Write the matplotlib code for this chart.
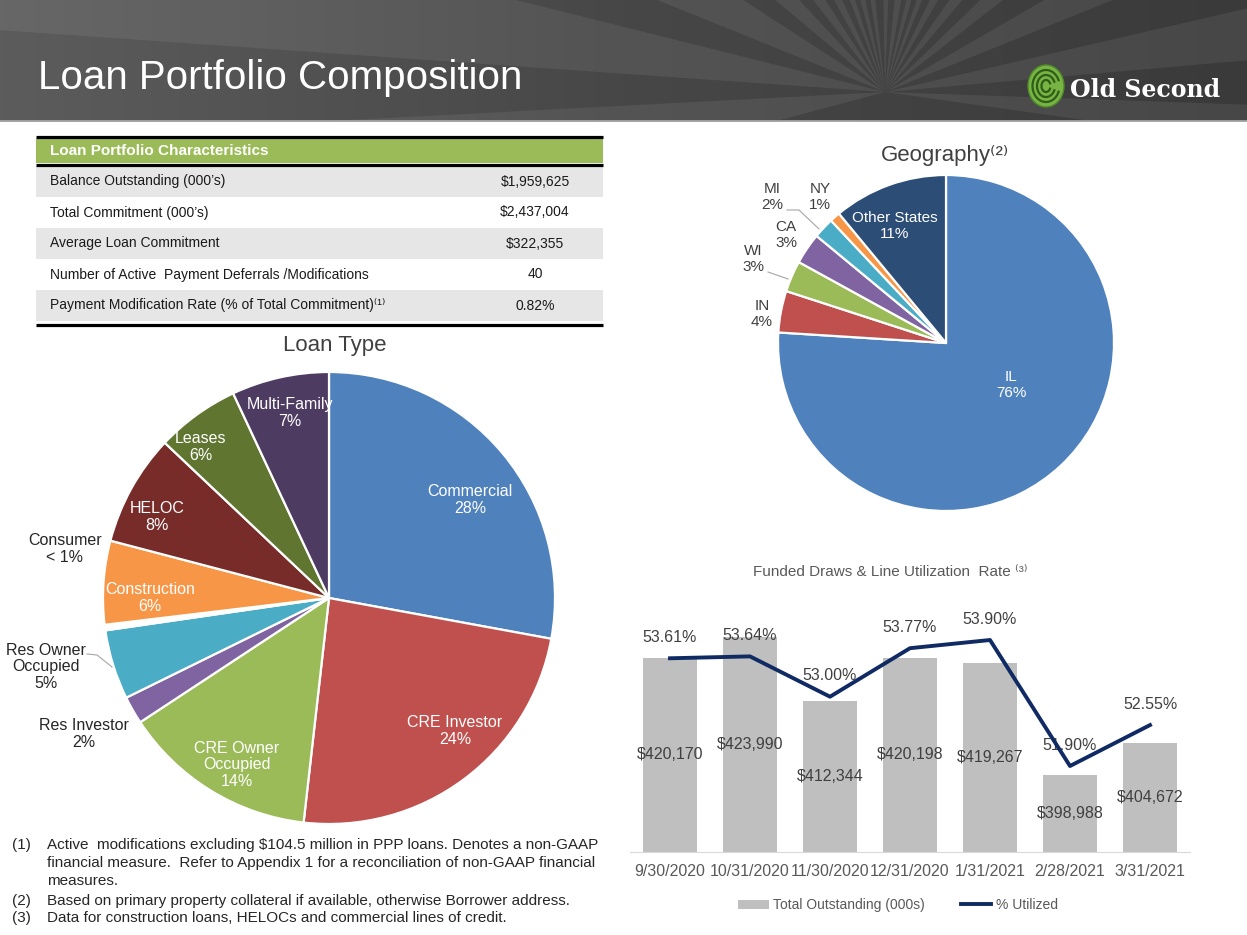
import numpy as np
import matplotlib.pyplot as plt
from matplotlib.patches import Rectangle, Polygon, Ellipse, Arc, Patch
from matplotlib.lines import Line2D
from matplotlib.colors import LinearSegmentedColormap

W, H = 1247, 935

# --- data ---------------------------------------------------------------
table_labels = [
    "Balance Outstanding (000\u2019s)",
    "Total Commitment (000\u2019s)",
    "Average Loan Commitment",
    "Number of Active  Payment Deferrals /Modifications",
    "Payment Modification Rate (% of Total Commitment)\u207d\u00b9\u207e",
]
table_values = ["$1,959,625", "$2,437,004", "$322,355", "40", "0.82%"]

loan_types = ["Commercial", "CRE Investor", "CRE Owner\nOccupied", "Res Investor",
              "Res Owner\nOccupied", "Consumer", "Construction", "HELOC", "Leases",
              "Multi-Family"]
loan_shares = [28, 24, 14, 2, 5, 0.4, 6, 8, 6, 7]
loan_pct_labels = ["28%", "24%", "14%", "2%", "5%", "< 1%", "6%", "8%", "6%", "7%"]
loan_colors = ["#4F81BD", "#C0504D", "#9BBB59", "#8064A2", "#4BACC6", "#FFFFFF",
               "#F79646", "#772C2A", "#5F7530", "#4D3B62"]

geo_states = ["IL", "IN", "WI", "CA", "MI", "NY", "Other States"]
geo_shares = [76, 4, 3, 3, 2, 1, 11]
geo_colors = ["#4F81BD", "#C0504D", "#9BBB59", "#8064A2", "#4BACC6", "#F79646", "#2C4D75"]

draw_dates = ["9/30/2020", "10/31/2020", "11/30/2020", "12/31/2020",
              "1/31/2021", "2/28/2021", "3/31/2021"]
total_outstanding = [420170, 423990, 412344, 420198, 419267, 398988, 404672]
pct_utilized = [53.61, 53.64, 53.00, 53.77, 53.90, 51.90, 52.55]

footnotes = [
    ("(1)", "Active  modifications excluding $104.5 million in PPP loans. Denotes a non-GAAP"),
    ("", "financial measure.  Refer to Appendix 1 for a reconciliation of non-GAAP financial"),
    ("", "measures."),
    ("(2)", "Based on primary property collateral if available, otherwise Borrower address."),
    ("(3)", "Data for construction loans, HELOCs and commercial lines of credit."),
]

plt.rcParams["font.family"] = ["Liberation Sans", "DejaVu Sans"]
plt.rcParams["text.parse_math"] = False


def px_rect(x, y, w, h):
    return [x / W, 1 - (y + h) / H, w / W, h / H]


fig = plt.figure(figsize=(W / 100, H / 100), dpi=100)
fig.patch.set_facecolor("white")

# --- header banner ------------------------------------------------------
hdr = fig.add_axes(px_rect(0, 0, W, 122))
hdr.axis("off")
cmap = LinearSegmentedColormap.from_list("hdr", ["#5c5c5c", "#474747", "#3a3a3a"])
hdr.imshow(np.linspace(0, 1, 256)[None, :], cmap=cmap, extent=(0, W, 122, 0), aspect="auto")
cx, cy = 885, 92
rays = [(-8, -2), (5, 13), (22, 30), (38, 44), (50, 55), (60, 64), (68, 71), (74, 77),
        (80, 84), (88, 91), (96, 99), (102, 105), (108, 111), (115, 119), (123, 128),
        (133, 140), (147, 158), (166, 176), (183, 195)]
for a0, a1 in rays:
    pts = [(cx, cy)] + [(cx + 3000 * np.cos(np.radians(a)), cy - 3000 * np.sin(np.radians(a)))
                        for a in (a0, a1)]
    hdr.add_patch(Polygon(pts, closed=True, facecolor="white", alpha=0.07, lw=0))
hdr.set_xlim(0, W)
hdr.set_ylim(122, 0)
hdr.axhline(121, color="#A6A6A6", lw=2)
hdr.text(38, 78, "Loan Portfolio Composition", color="white", fontsize=29, va="center", ha="left")
# logo
hdr.add_patch(Ellipse((1046, 86), 36, 42, facecolor="#78B443", edgecolor="#4E8A2A", lw=1))
for w_, h_ in [(27, 32), (18, 22), (9, 12)]:
    hdr.add_patch(Arc((1046, 86), w_, h_, theta1=20, theta2=340, color="#2F5E18", lw=1.6))
hdr.text(1070, 90, "Old Second", color="white", fontsize=17, fontweight="bold",
         family=["DejaVu Serif"], va="center", ha="left")

# --- page overlay for table, titles, footnotes ---------------------------
page = fig.add_axes([0, 0, 1, 1])
page.set_xlim(0, W)
page.set_ylim(H, 0)
page.axis("off")
page.set_zorder(5)
page.patch.set_alpha(0)

tx0, tx1 = 36, 603
page.add_patch(Rectangle((tx0, 139), tx1 - tx0, 24, facecolor="#9BBB59", lw=0))
page.text(50, 151, "Loan Portfolio Characteristics", color="white", fontsize=11,
          fontweight="bold", va="center")
row_h = 31
for i, (lab, val) in enumerate(zip(table_labels, table_values)):
    y0 = 166 + i * row_h
    if i % 2 == 0:
        page.add_patch(Rectangle((tx0, y0), tx1 - tx0, row_h, facecolor="#E6E6E6", lw=0))
    page.text(50, y0 + row_h / 2, lab, fontsize=10, color="#1a1a1a", va="center")
    page.text(535, y0 + row_h / 2, val, fontsize=10, color="#1a1a1a", va="center", ha="center")
for yl in (137, 165, 325):
    page.plot([tx0, tx1], [yl, yl], color="black", lw=2.3, solid_capstyle="butt")

page.text(335, 345, "Loan Type", fontsize=16, color="#404040", ha="center", va="center")
page.text(945, 155, "Geography\u207d\u00b2\u207e", fontsize=16, color="#404040", ha="center", va="center")
page.text(890, 572, "Funded Draws & Line Utilization  Rate \u207d\u00b3\u207e", fontsize=11,
          color="#595959", ha="center", va="center")

for i, (num, line) in enumerate(footnotes):
    yy = [845, 863, 881, 901, 918][i]
    if num:
        page.text(12, yy, num, fontsize=11, color="#262626", va="center")
    page.text(47, yy, line, fontsize=11, color="#262626", va="center")

# --- loan type pie ------------------------------------------------------
lcx, lcy, lr = 329, 598, 226
ax1 = fig.add_axes(px_rect(lcx - 1.25 * lr, lcy - 1.25 * lr, 2.5 * lr, 2.5 * lr))
ax1.pie(loan_shares, colors=loan_colors, startangle=90, counterclock=False,
        wedgeprops=dict(edgecolor="white", linewidth=1.6))
ax1.set_xlim(-1.25, 1.25)
ax1.set_ylim(-1.25, 1.25)
ax1.set_aspect("equal")
ax1.patch.set_alpha(0)

loan_label_pos = [(470, 500), (455, 731), (237, 765), (84, 734), (46, 667), (65, 549),
                  (150, 598), (157, 517), (201, 447), (290, 413)]
loan_inside = [True, True, True, False, False, False, True, True, True, True]
for name, pct, (x, y), inside in zip(loan_types, loan_pct_labels, loan_label_pos, loan_inside):
    page.text(x, y, f"{name}\n{pct}", fontsize=11.5, ha="center", va="center",
              color="white" if inside else "#262626", linespacing=1.1)
page.plot([87, 97, 112], [654, 655, 667], color="#A6A6A6", lw=0.8)

# --- geography pie ------------------------------------------------------
gcx, gcy, gr = 946, 343, 168
ax2 = fig.add_axes(px_rect(gcx - 1.25 * gr, gcy - 1.25 * gr, 2.5 * gr, 2.5 * gr))
ax2.pie(geo_shares, colors=geo_colors, startangle=90, counterclock=False,
        wedgeprops=dict(edgecolor="white", linewidth=1.6))
ax2.set_xlim(-1.25, 1.25)
ax2.set_ylim(-1.25, 1.25)
ax2.set_aspect("equal")
ax2.patch.set_alpha(0)

geo_label_pos = [(1011, 385), (762, 314), (753, 259), (786, 235), (772, 197), (820, 197), (895, 226)]
geo_inside = [True, False, False, False, False, False, True]
for st, s, (x, y), inside in zip(geo_states, geo_shares, geo_label_pos, geo_inside):
    page.text(x, y, f"{st}\n{s}%", fontsize=11, ha="center", va="center",
              color="white" if inside else "#404040", linespacing=1.1)
page.plot([768, 788], [272, 279], color="#A6A6A6", lw=0.8)
page.plot([787, 799, 819], [210, 210, 229], color="#A6A6A6", lw=0.8)

# --- funded draws bar + line -------------------------------------------
axb = fig.add_axes(px_rect(630, 600, 560, 252))
x = np.arange(len(draw_dates))
axb.bar(x, total_outstanding, width=0.68, color="#BFBFBF")
axb.set_xlim(-0.5, len(x) - 0.5)
axb.set_ylim(385000, 430650)
axb.set_xticks(x, draw_dates)
axb.set_yticks([])
axb.tick_params(axis="x", length=0, pad=9, labelsize=11.5, labelcolor="#595959")
for side in ("top", "left", "right"):
    axb.spines[side].set_visible(False)
axb.spines["bottom"].set_color("#D9D9D9")
axb.patch.set_alpha(0)
base = axb.get_ylim()[0]
for xi, v in zip(x, total_outstanding):
    axb.text(xi, (base + v) / 2, f"${v:,}", ha="center", va="center", fontsize=11.5, color="#404040")

axl = axb.twinx()
axl.plot(x, pct_utilized, color="#102A63", lw=2.8)
axl.set_ylim(50.535, 54.535)
axl.set_yticks([])
for side in ("top", "left", "right", "bottom"):
    axl.spines[side].set_visible(False)
for xi, p in zip(x, pct_utilized):
    axb.annotate(f"{p:.2f}%", (xi, p), xycoords=axl.transData, xytext=(0, 15),
                 textcoords="offset points", ha="center", va="center", fontsize=11.5,
                 color="#404040", annotation_clip=False)

fig.legend(handles=[Patch(facecolor="#BFBFBF"), Line2D([], [], color="#102A63", lw=2.8)],
           labels=["Total Outstanding (000s)", "% Utilized"], loc="center",
           bbox_to_anchor=(898 / W, 1 - 905 / H), ncol=2, frameon=False, fontsize=10,
           handlelength=2.2, handleheight=0.6, handletextpad=0.3, columnspacing=2.6,
           labelcolor="#595959")

fig.savefig("out.png", dpi=100)
